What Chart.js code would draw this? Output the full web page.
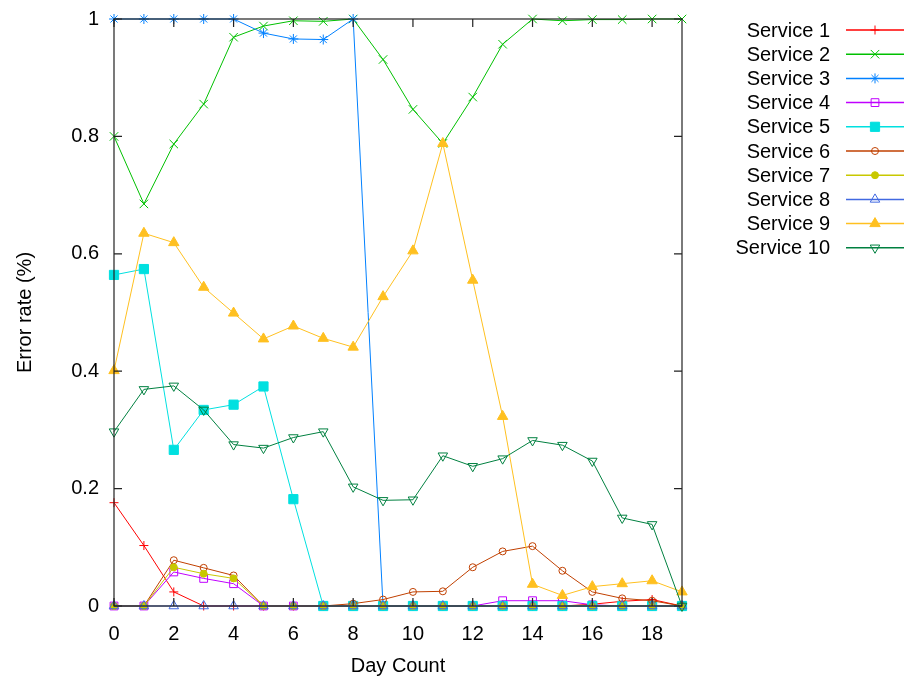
<!DOCTYPE html>
<html>
<head>
<meta charset="utf-8">
<script src="https://cdn.jsdelivr.net/npm/chart.js@4/dist/chart.umd.min.js"></script>
<style>
  body { margin: 0; background: #fff; }
  canvas { display: block; }
</style>
</head>
<body>
<canvas id="chart" width="906" height="681"></canvas>
<script>
const days = [0, 1, 2, 3, 4, 5, 6, 7, 8, 9, 10, 11, 12, 13, 14, 15, 16, 17, 18, 19];
const xTicks = [0, 2, 4, 6, 8, 10, 12, 14, 16, 18];
const yTicks = [0, 0.2, 0.4, 0.6, 0.8, 1];
const serviceNames = ['Service 1', 'Service 2', 'Service 3', 'Service 4', 'Service 5',
  'Service 6', 'Service 7', 'Service 8', 'Service 9', 'Service 10'];

const service1 = [0.176, 0.103, 0.024, 0, 0, 0, 0, 0, 0, 0, 0, 0, 0, 0, 0, 0, 0.003, 0.008, 0.011, 0];
const service2 = [0.8, 0.685, 0.787, 0.855, 0.969, 0.988, 0.997, 0.996, 1, 0.931, 0.846, 0.788, 0.867, 0.957, 1, 0.997, 0.999, 0.999, 1, 1];
const service3 = [1, 1, 1, 1, 1, 0.976, 0.966, 0.965, 1, 0, 0, 0, 0, 0, 0, 0, 0, 0, 0, 0];
const service4 = [0, 0, 0.058, 0.047, 0.038, 0, 0, 0, 0, 0, 0, 0, 0, 0.009, 0.009, 0.009, 0.002, 0, 0, 0];
const service5 = [0.564, 0.574, 0.266, 0.334, 0.343, 0.374, 0.182, 0, 0, 0, 0, 0, 0, 0, 0, 0, 0, 0, 0, 0];
const service6 = [0, 0, 0.078, 0.065, 0.052, 0, 0, 0, 0.004, 0.011, 0.024, 0.025, 0.066, 0.093, 0.102, 0.06, 0.024, 0.013, 0.009, 0];
const service7 = [0, 0, 0.066, 0.055, 0.047, 0, 0, 0, 0, 0, 0, 0, 0, 0, 0, 0, 0, 0, 0, 0];
const service8 = [0, 0, 0, 0, 0, 0, 0, 0, 0, 0, 0, 0, 0, 0, 0, 0, 0, 0, 0, 0];
const service9 = [0.401, 0.635, 0.619, 0.543, 0.499, 0.455, 0.477, 0.456, 0.441, 0.527, 0.605, 0.788, 0.555, 0.323, 0.037, 0.018, 0.033, 0.038, 0.043, 0.024];
const service10 = [0.297, 0.369, 0.375, 0.334, 0.275, 0.269, 0.287, 0.297, 0.203, 0.18, 0.181, 0.256, 0.238, 0.251, 0.282, 0.274, 0.247, 0.15, 0.139, 0];

const seriesValues = [service1, service2, service3, service4, service5,
  service6, service7, service8, service9, service10];

// gnuplot-ish look for each series
const styles = [
  { color: '#ff0000', point: 'cross', radius: 4.5, filled: false },
  { color: '#00c000', point: 'crossRot', radius: 6, filled: false },
  { color: '#0080ff', point: 'star', radius: 5, filled: false },
  { color: '#c000ff', point: 'rect', radius: 5.5, filled: false },
  { color: '#00e0e0', point: 'rect', radius: 6.5, filled: true },
  { color: '#c04000', point: 'circle', radius: 3.5, filled: false },
  { color: '#c8c800', point: 'circle', radius: 3.5, filled: true },
  { color: '#4169e1', point: 'triangle', radius: 5.5, filled: false },
  { color: '#ffc020', point: 'triangle', radius: 6, filled: true },
  { color: '#008040', point: 'triangle', radius: 5.5, filled: false, rotation: 180 }
];

const FONT = "'Liberation Sans', Arial, sans-serif";

const datasets = seriesValues.map((values, i) => {
  const s = styles[i];
  return {
    label: serviceNames[i],
    data: days.map((d, j) => ({ x: d, y: values[j] })),
    borderColor: s.color,
    backgroundColor: s.filled ? s.color : 'rgba(0,0,0,0)',
    pointBorderColor: s.color,
    pointBackgroundColor: s.filled ? s.color : 'rgba(0,0,0,0)',
    pointStyle: s.point,
    pointRadius: s.radius,
    pointRotation: s.rotation || 0,
    pointBorderWidth: 1,
    borderWidth: 1,
    tension: 0,
    clip: 8,
    order: seriesValues.length - i
  };
});

// frame with inward ticks, like gnuplot
const framePlugin = {
  id: 'frame',
  afterDatasetsDraw(chart) {
    const { ctx, chartArea } = chart;
    const xs = chart.scales.x;
    const ys = chart.scales.y;
    ctx.save();
    ctx.strokeStyle = '#222';
    ctx.lineWidth = 1.2;
    ctx.strokeRect(chartArea.left, chartArea.top, chartArea.right - chartArea.left, chartArea.bottom - chartArea.top);
    ctx.beginPath();
    xTicks.forEach(v => {
      const px = xs.getPixelForValue(v);
      ctx.moveTo(px, chartArea.bottom);
      ctx.lineTo(px, chartArea.bottom - 8);
      ctx.moveTo(px, chartArea.top);
      ctx.lineTo(px, chartArea.top + 8);
    });
    yTicks.forEach(v => {
      const py = ys.getPixelForValue(v);
      ctx.moveTo(chartArea.left, py);
      ctx.lineTo(chartArea.left + 8, py);
      ctx.moveTo(chartArea.right, py);
      ctx.lineTo(chartArea.right - 8, py);
    });
    ctx.stroke();
    ctx.restore();
  }
};

// legend on the right: text right-aligned, then line sample with marker
const legendPlugin = {
  id: 'sideLegend',
  afterDraw(chart) {
    const ctx = chart.ctx;
    ctx.save();
    ctx.font = '20px ' + FONT;
    ctx.textAlign = 'right';
    ctx.textBaseline = 'middle';
    chart.data.datasets.forEach((ds, i) => {
      const y = 30 + i * 24.2;
      ctx.fillStyle = '#000';
      ctx.fillText(ds.label, 830, y + 1);
      ctx.strokeStyle = ds.borderColor;
      ctx.lineWidth = 1.5;
      ctx.beginPath();
      ctx.moveTo(846, y);
      ctx.lineTo(904, y);
      ctx.stroke();
      ctx.fillStyle = ds.pointBackgroundColor;
      ctx.lineWidth = 1;
      Chart.helpers.drawPoint(ctx, {
        pointStyle: ds.pointStyle,
        rotation: ds.pointRotation,
        radius: ds.pointRadius,
        borderWidth: 1
      }, 875, y);
    });
    ctx.restore();
  }
};

new Chart(document.getElementById('chart'), {
  type: 'line',
  data: { datasets: datasets },
  options: {
    responsive: false,
    animation: false,
    layout: { padding: { left: 0, top: 19, right: 224, bottom: 0 } },
    plugins: {
      legend: { display: false },
      tooltip: { enabled: false }
    },
    scales: {
      x: {
        type: 'linear',
        min: 0,
        max: 19,
        grid: { display: false, drawTicks: true, tickLength: 8 },
        border: { display: false },
        afterBuildTicks: scale => { scale.ticks = xTicks.map(v => ({ value: v })); },
        afterFit: scale => { scale.height = 75; },
        ticks: { color: '#000', font: { family: FONT, size: 20 }, padding: 8, maxRotation: 0 },
        title: { display: true, text: 'Day Count', color: '#000', font: { family: FONT, size: 20 }, padding: { top: 4, bottom: 3 } }
      },
      y: {
        min: 0,
        max: 1,
        grid: { display: false, drawTicks: true, tickLength: 10 },
        border: { display: false },
        afterBuildTicks: scale => { scale.ticks = yTicks.map(v => ({ value: v })); },
        afterFit: scale => { scale.width = 114; },
        ticks: { color: '#000', font: { family: FONT, size: 20 }, padding: 5, callback: v => String(v) },
        title: { display: true, text: 'Error rate (%)', color: '#000', font: { family: FONT, size: 20 }, padding: { top: 13, bottom: 4 } }
      }
    }
  },
  plugins: [framePlugin, legendPlugin]
});
</script>
</body>
</html>
